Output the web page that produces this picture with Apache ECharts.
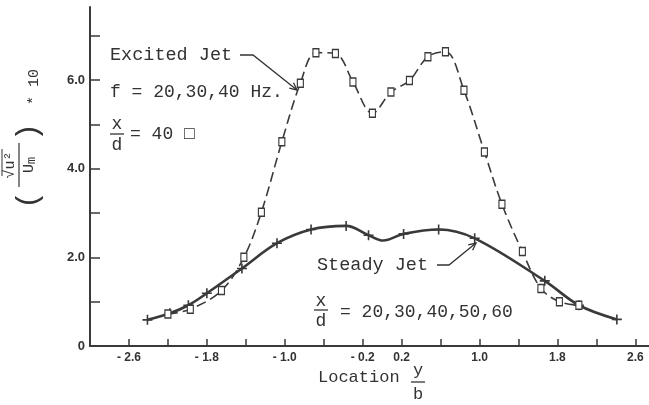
<!DOCTYPE html>
<html><head><meta charset="utf-8">
<script src="https://cdn.jsdelivr.net/npm/echarts@6/dist/echarts.min.js"></script>
<style>html,body{margin:0;padding:0;background:#fff}#c{width:649px;height:405px}</style>
</head><body><div id="c"></div>
<script>
// Steady jet (+ markers, solid line)
const steadyX = [-2.41, -2.18, -1.99, -1.80, -1.44, -1.08, -0.73, -0.37, -0.14, 0.01, 0.22, 0.58, 0.95, 1.67, 2.02, 2.41];
const steadyY = [0.59, 0.74, 0.92, 1.19, 1.75, 2.32, 2.63, 2.71, 2.50, 2.38, 2.53, 2.63, 2.43, 1.47, 0.92, 0.60];
const steadyNoMarker = [0.01]; // kink of the curve without a symbol
// Excited jet (square markers, dashed line)
const excitedX = [-2.20, -1.97, -1.65, -1.42, -1.24, -1.03, -0.84, -0.68, -0.48, -0.30, -0.10, 0.09, 0.28, 0.47, 0.65, 0.84, 1.05, 1.23, 1.44, 1.63, 1.82, 2.02];
const excitedY = [0.72, 0.83, 1.25, 2.00, 3.02, 4.61, 5.93, 6.62, 6.60, 5.96, 5.25, 5.73, 5.99, 6.53, 6.64, 5.77, 4.38, 3.20, 2.13, 1.30, 1.00, 0.92];
// Axis ticks / labels
const xTickValues = [-2.6, -2.2, -1.8, -1.4, -1.0, -0.6, -0.2, 0.2, 0.6, 1.0, 1.4, 1.8, 2.2, 2.6];
const xLabelValues = [-2.6, -1.8, -1.0, -0.2, 0.2, 1.0, 1.8, 2.6];
const yTickValues = [1, 2, 3, 4, 5, 6, 7];
const yLabelValues = [0, 2, 4, 6];

const ink = '#333';
const mono = '"Liberation Mono", "DejaVu Sans Mono", monospace';
const plusPath = 'path://M4.2,0H5.8V4.2H10V5.8H5.8V10H4.2V5.8H0V4.2H4.2Z';

function arrowHead(tx, ty, fx, fy, len, ang) {
  const a = Math.atan2(ty - fy, tx - fx);
  return [[tx - len * Math.cos(a - ang), ty - len * Math.sin(a - ang)], [tx, ty],
          [tx - len * Math.cos(a + ang), ty - len * Math.sin(a + ang)]];
}
function txt(text, x, y, size, align, extra) {
  return Object.assign({ type: 'text', x: x, y: y, style: { text: text, font: size + 'px ' + mono, fill: ink,
    textAlign: align || 'left', textVerticalAlign: 'middle' } }, extra || {});
}
function line(x1, y1, x2, y2, w) {
  return { type: 'line', shape: { x1: x1, y1: y1, x2: x2, y2: y2 }, style: { stroke: ink, lineWidth: w || 1.3 } };
}
function poly(pts, w) {
  return { type: 'polyline', shape: { points: pts }, style: { stroke: ink, fill: null, lineWidth: w || 1.3 } };
}

const steadyData = steadyX.map((x, i) => steadyNoMarker.indexOf(x) >= 0
  ? { value: [x, steadyY[i]], symbol: 'none' } : [x, steadyY[i]]);
const excitedData = excitedX.map((x, i) => [x, excitedY[i]]);

const chart = echarts.init(document.getElementById('c'), null, { renderer: 'canvas' });
chart.setOption({
  backgroundColor: '#fff',
  animation: false,
  grid: { left: 90, right: 0, top: 7, bottom: 59 },
  xAxis: {
    type: 'value', min: -3.0, max: 2.74,
    axisLine: { show: true, onZero: false, lineStyle: { color: '#3a3a3a', width: 2 } },
    axisTick: { show: true, inside: true, length: 7, customValues: xTickValues, lineStyle: { color: '#3a3a3a', width: 1.5 } },
    axisLabel: { customValues: xLabelValues, margin: 6, color: ink, fontFamily: '"Liberation Sans", Arial, sans-serif',
      fontWeight: 'bold', fontSize: 12,
      formatter: v => (v < 0 ? '- ' + Math.abs(v).toFixed(1) : v.toFixed(1)) },
    splitLine: { show: false }
  },
  yAxis: {
    type: 'value', min: 0, max: 7.65,
    axisLine: { show: true, onZero: false, lineStyle: { color: '#3a3a3a', width: 2 } },
    axisTick: { show: true, inside: true, length: 10, customValues: yTickValues, lineStyle: { color: '#3a3a3a', width: 1.5 } },
    axisLabel: { customValues: yLabelValues, margin: 5, color: ink, fontFamily: '"Liberation Sans", Arial, sans-serif',
      fontWeight: 'bold', fontSize: 13,
      formatter: v => (v === 0 ? '0' : v.toFixed(1)) },
    splitLine: { show: false }
  },
  series: [
    {
      name: 'Steady Jet', type: 'line', data: steadyData, smooth: 0.35,
      symbol: plusPath, symbolSize: 10,
      lineStyle: { color: '#3a3a3a', width: 2.6 },
      itemStyle: { color: '#3a3a3a' }, z: 3
    },
    {
      name: 'Excited Jet', type: 'line', data: excitedData, smooth: 0.35,
      symbol: 'rect', symbolSize: [6, 8], showAllSymbol: true,
      lineStyle: { color: '#3a3a3a', width: 1.6, type: [10, 5] },
      itemStyle: { color: '#fff', borderColor: '#3a3a3a', borderWidth: 1.3 }, z: 4
    }
  ],
  graphic: [
    // Excited jet annotation
    txt('Excited Jet', 110, 55, 18.5),
    poly([[240, 55], [253, 55], [297, 90]]),
    poly(arrowHead(297, 90, 253, 55, 8, 0.45)),
    txt('f = 20,30,40 Hz.', 110, 92, 18),
    txt('x', 117, 124, 18, 'center'),
    line(110, 134, 124, 134),
    txt('d', 117, 145, 18, 'center'),
    txt('= 40 \u25A1', 130, 134, 18),
    // Steady jet annotation
    txt('Steady Jet', 317, 265, 18.5),
    poly([[437, 265], [449, 265], [476, 243]]),
    poly(arrowHead(476, 243, 449, 265, 8, 0.45)),
    txt('x', 321, 301, 18, 'center'),
    line(314, 310, 328, 310),
    txt('d', 321, 321, 18, 'center'),
    txt('= 20,30,40,50,60', 340, 312, 18),
    // x-axis title
    txt('Location', 318, 377, 17),
    txt('y', 418, 370, 17, 'center'),
    line(411, 382, 425, 382),
    txt('b', 418, 394, 17, 'center'),
    // y-axis title (rotated)
    {
      type: 'group', x: 34, y: 207, rotation: Math.PI / 2,
      children: [
        txt('(', 7, -5, 30, 'center'),
        txt('\u221Au\u00B2', 42, -24, 15, 'center'),
        line(31, -32, 58, -32, 1),
        line(20, -15, 64, -15, 1.2),
        { type: 'text', x: 42, y: -5, style: { text: '{a|U}{b|m}', textAlign: 'center', textVerticalAlign: 'middle',
            rich: { a: { font: '15px ' + mono, fill: ink }, b: { font: '12px ' + mono, fill: ink, padding: [6, 0, 0, 0] } } } },
        txt(')', 75, -5, 30, 'center'),
        txt('* 10', 102, 0, 15)
      ]
    }
  ]
});
</script>
</body></html>
